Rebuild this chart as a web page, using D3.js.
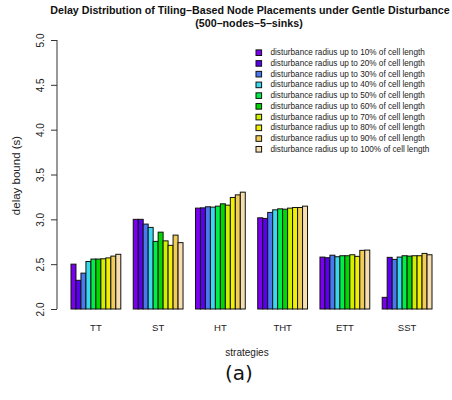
<!DOCTYPE html>
<html>
<head>
<meta charset="utf-8">
<script src="https://cdn.jsdelivr.net/npm/d3@7"></script>
<style>
  html, body { margin: 0; padding: 0; background: #fff; }
  svg { display: block; font-family: "Liberation Sans", Arial, Helvetica, sans-serif; }
</style>
</head>
<body>
<svg id="chart" width="452" height="400"></svg>
<script>
// Placement strategies along the x axis
const strategies = ["TT", "ST", "HT", "THT", "ETT", "SST"];

// Disturbance radius levels (one bar per level inside each strategy group)
const radiusLevels = ["10%", "20%", "30%", "40%", "50%", "60%", "70%", "80%", "90%", "100%"];

// Delay bound (s) per strategy, one value per radius level
const delayTT  = [2.50, 2.32, 2.40, 2.53, 2.557, 2.557, 2.56, 2.57, 2.59, 2.61];
const delayST  = [3.00, 3.00, 2.947, 2.91, 2.754, 2.857, 2.76, 2.71, 2.824, 2.74];
const delayHT  = [3.125, 3.128, 3.14, 3.136, 3.147, 3.173, 3.158, 3.244, 3.273, 3.303];
const delayTHT = [3.017, 3.01, 3.077, 3.106, 3.117, 3.113, 3.125, 3.132, 3.132, 3.147];
const delayETT = [2.579, 2.572, 2.60, 2.583, 2.594, 2.594, 2.605, 2.587, 2.654, 2.657];
const delaySST = [2.13, 2.576, 2.553, 2.579, 2.594, 2.59, 2.594, 2.594, 2.62, 2.605];

const yTicks = [2.0, 2.5, 3.0, 3.5, 4.0, 4.5, 5.0];

const series = [delayTT, delayST, delayHT, delayTHT, delayETT, delaySST];

const palette = ["#7a00f0", "#5a00ee", "#4a78ee", "#38d8f0", "#00ee48", "#00d800",
                 "#d0f000", "#f0f000", "#f0cc58", "#f6deb0"];

const svg = d3.select("#chart");

// Scales
const x0 = d3.scaleBand().domain(strategies).range([71, 432]).paddingInner(0.2).paddingOuter(0);
const x1 = d3.scaleBand().domain(radiusLevels).range([0, x0.bandwidth()]).padding(0);
const y = d3.scaleLinear().domain([2, 5]).range([309, 40]);
const color = d3.scaleOrdinal().domain(radiusLevels).range(palette);

// Bars
const groups = svg.append("g")
  .selectAll("g")
  .data(strategies.map((s, i) => ({ s, vals: series[i] })))
  .join("g")
  .attr("transform", d => `translate(${x0(d.s)},0)`);

groups.selectAll("rect")
  .data(d => d.vals.map((v, j) => ({ level: radiusLevels[j], v })))
  .join("rect")
  .attr("x", d => x1(d.level))
  .attr("y", d => y(d.v))
  .attr("width", x1.bandwidth())
  .attr("height", d => y(2) - y(d.v))
  .attr("fill", d => color(d.level))
  .attr("stroke", "#111")
  .attr("stroke-width", 1);

// Y axis
const yAxis = d3.axisLeft(y).tickValues(yTicks).tickFormat(d3.format(".1f")).tickSize(6).tickPadding(4);
const ya = svg.append("g").attr("transform", "translate(57,0)").call(yAxis);
ya.select(".domain").attr("stroke", "#333").attr("d", `M0,${y(2)}V${y(5)}`);
ya.selectAll(".tick line").attr("stroke", "#333");
ya.selectAll(".tick text")
  .attr("font-size", 10)
  .attr("fill", "#222")
  .attr("text-anchor", "middle")
  .attr("dominant-baseline", "central")
  .attr("x", null).attr("dy", null)
  .attr("transform", "translate(-17,0) rotate(-90)");

// Category labels
svg.append("g").selectAll("text")
  .data(strategies)
  .join("text")
  .attr("x", d => x0(d) + x0.bandwidth() / 2)
  .attr("y", 327)
  .attr("text-anchor", "middle")
  .attr("dominant-baseline", "central")
  .attr("font-size", 9.5)
  .attr("fill", "#222")
  .text(d => d);

// Axis titles
svg.append("text")
  .attr("x", 247).attr("y", 352)
  .attr("text-anchor", "middle").attr("dominant-baseline", "central")
  .attr("font-size", 10).attr("fill", "#222")
  .text("strategies");

svg.append("text")
  .attr("transform", `translate(16,${(y(2) + y(5)) / 2 + 1}) rotate(-90)`)
  .attr("text-anchor", "middle").attr("dominant-baseline", "central")
  .attr("font-size", 11.5).attr("fill", "#222")
  .text("delay bound (s)");

// Title
svg.append("text")
  .attr("x", 250).attr("y", 9.5)
  .attr("text-anchor", "middle").attr("dominant-baseline", "central")
  .attr("font-size", 10.7).attr("font-weight", "bold").attr("fill", "#111")
  .text("Delay Distribution of Tiling\u2013Based Node Placements under Gentle Disturbance");
svg.append("text")
  .attr("x", 249).attr("y", 22.7)
  .attr("text-anchor", "middle").attr("dominant-baseline", "central")
  .attr("font-size", 10.7).attr("font-weight", "bold").attr("fill", "#111")
  .text("(500\u2013nodes\u20135\u2013sinks)");

// Legend
const legend = svg.append("g")
  .selectAll("g")
  .data(radiusLevels)
  .join("g")
  .attr("transform", (d, i) => `translate(256,${52.7 + i * 10.73})`);
legend.append("rect")
  .attr("x", 0).attr("y", -2.8)
  .attr("width", 5.6).attr("height", 5.6)
  .attr("fill", d => color(d))
  .attr("stroke", "#111").attr("stroke-width", 1);
legend.append("text")
  .attr("x", 14.5).attr("y", 0)
  .attr("dominant-baseline", "central")
  .attr("font-size", 8.2).attr("fill", "#222")
  .text(d => `disturbance radius up to ${d} of cell length`);

// Panel tag
svg.append("text")
  .attr("x", 239).attr("y", 373)
  .attr("text-anchor", "middle").attr("dominant-baseline", "central")
  .attr("font-family", "'DejaVu Sans', 'Open Sans', sans-serif")
  .attr("font-size", 20).attr("fill", "#111")
  .text("(a)");
</script>
</body>
</html>
